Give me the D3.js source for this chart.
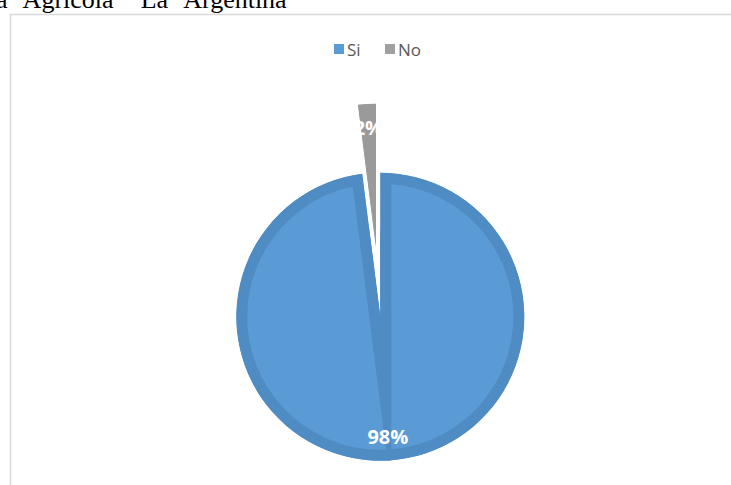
<!DOCTYPE html>
<html>
<head>
<meta charset="utf-8">
<script src="https://cdn.jsdelivr.net/npm/d3@7"></script>
<style>
  html, body { margin: 0; padding: 0; background: #fff; }
  svg { display: block; }
</style>
</head>
<body>
<svg id="chart" width="731" height="485"></svg>
<script>
// Survey answers shown in the pie
const categories = ["Si", "No"];
const values = [98, 2];
const valueLabels = ["98%", "2%"];
const titleText = "a Agrícola \"La Argentina";

const fills = ["#5b9bd5", "#a0a0a0"];
const borders = ["#4f8cc4", "#9a9a9a"];

const svg = d3.select("#chart");

// page heading line, partly cut off above the chart frame
svg.append("text")
  .attr("x", -4).attr("y", 8)
  .attr("font-family", "'Liberation Serif', 'Times New Roman', serif")
  .attr("font-size", 26)
  .attr("word-spacing", 10)
  .attr("fill", "#000")
  .text(titleText);

// chart frame
svg.append("rect")
  .attr("x", 10.5).attr("y", 14.5)
  .attr("width", 722).attr("height", 480)
  .attr("fill", "#fff")
  .attr("stroke", "#d9d9d9")
  .attr("stroke-width", 1.5);

// legend
const legend = svg.append("g")
  .attr("font-family", "'Open Sans', 'Noto Sans', sans-serif")
  .attr("font-size", 17)
  .attr("fill", "#595959");
const legendX = d3.scalePoint().domain(categories).range([334, 385]);
categories.forEach((c, i) => {
  const g = legend.append("g").attr("transform", `translate(${legendX(c)},44)`);
  g.append("rect").attr("width", 10).attr("height", 10).attr("fill", fills[i]);
  g.append("text").attr("x", 13).attr("y", 11.5).text(c);
});

// pie
const cx = 380.3, cy = 316.7, R = 144;
const border = 11;
const explodeFrac = [0, 0.48];

const pie = d3.pie().sort(null).value(d => d).startAngle(0).endAngle(2 * Math.PI);
const arcs = pie(values);
const arc = d3.arc().innerRadius(0).outerRadius(R);
const defs = svg.append("defs");

arcs.forEach((a, i) => {
  const mid = (a.startAngle + a.endAngle) / 2;
  const off = explodeFrac[i] * R;
  const px = cx + off * Math.sin(mid), py = cy - off * Math.cos(mid);

  // each slice is clipped to itself so its border only shows on the inside
  const clipId = "slice-clip-" + i;
  defs.append("clipPath").attr("id", clipId)
    .append("path").attr("d", arc(a)).attr("transform", `translate(${px},${py})`);

  const pg = svg.append("g").attr("clip-path", `url(#${clipId})`)
    .append("g").attr("transform", `translate(${px},${py})`);

  pg.append("path").attr("d", arc(a)).attr("fill", fills[i]);
  pg.append("path").attr("d", arc(a))
    .attr("fill", "none")
    .attr("stroke", borders[i])
    .attr("stroke-width", border * 2)
    .attr("stroke-linejoin", "miter");

  // where the two edge bands cross beyond the centre
  const s = a.startAngle, e = a.endAngle;
  const det = Math.sin(e - s);
  if (i === 0 && Math.abs(det) > 1e-6) {
    const w = border;
    const pts = [[1, 1], [1, -1], [-1, -1], [-1, 1]].map(([s1, s2]) => {
      const b1 = s1 * w, b2 = s2 * w;
      const x = (b1 * Math.sin(e) - b2 * Math.sin(s)) / det;
      const y = (Math.cos(s) * b2 - Math.cos(e) * b1) / det;
      return [x, y];
    });
    pg.append("path").attr("d", d3.line()(pts) + "Z").attr("fill", borders[i]);
  }
});

// value labels, placed near the outer end of each slice
const labelR = 120;
arcs.forEach((a, i) => {
  const mid = (a.startAngle + a.endAngle) / 2;
  const off = explodeFrac[i] * R;
  const x = cx + (off + labelR) * Math.sin(mid);
  const y = cy - (off + labelR) * Math.cos(mid);
  svg.append("text")
    .attr("x", x).attr("y", y + 7.5)
    .attr("text-anchor", "middle")
    .attr("font-family", "'Open Sans', 'Noto Sans', sans-serif")
    .attr("font-weight", "bold")
    .attr("font-size", 20)
    .attr("fill", "#fff")
    .text(valueLabels[i]);
});
</script>
</body>
</html>
